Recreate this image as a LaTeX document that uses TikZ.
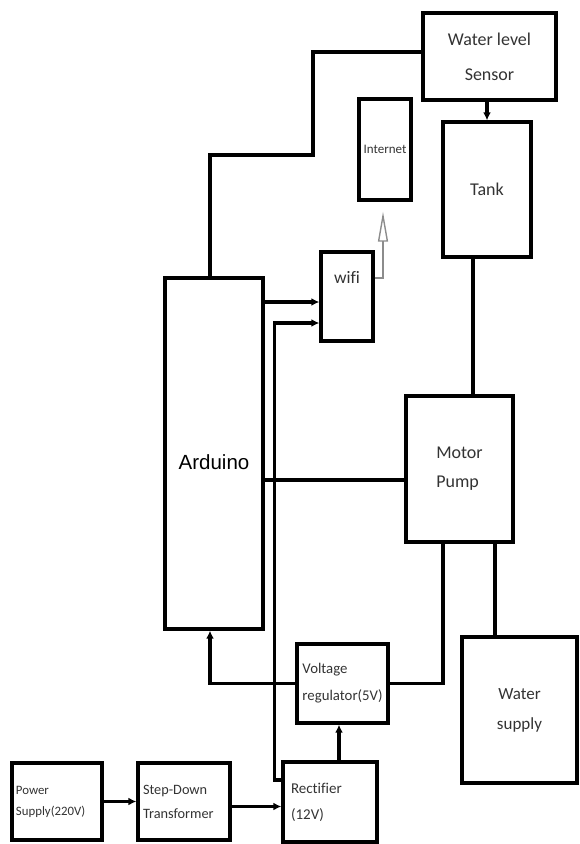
\documentclass[tikz,border=0pt]{standalone}
\usepackage{fontspec}
\setmainfont{Carlito}[Ligatures=NoCommon]
\newfontfamily\ardfont{Liberation Sans}
\usetikzlibrary{arrows.meta}

\tikzset{
  blk/.style={draw=black, line width=3.4pt, text=black!80, inner sep=4pt},
  wire/.style={line width=3.2pt},
  arr/.style={line width=3.2pt, -{Latex[length=8pt,width=8pt]}},
  hollow/.style={draw=black!45, line width=1.4pt, -{Triangle[open,length=30pt,width=10pt]}},
}

\begin{document}
\begin{tikzpicture}[x=1pt,y=-1pt]
\useasboundingbox (0,0) rectangle (579,844);

%blocks
\node[blk, minimum width=133, minimum height=87, align=center, font=\fontsize{18}{35}\selectfont] (sensor) at (489.5,56.5) {Water level\\Sensor};
\node[blk, minimum width=52, minimum height=101, font=\fontsize{13}{15}\selectfont] (internet) at (385,149.5) {Internet};
\node[blk, minimum width=88, minimum height=135, font=\fontsize{18}{20}\selectfont] (tank) at (487,189.5) {Tank};
\node[blk, minimum width=52, minimum height=89] (wifi) at (347,296.5) {};
\node[text=black!80, font=\fontsize{17.5}{20}\selectfont] (wifilbl) at ([yshift=19pt]wifi.center) {wifi};
\node[blk, minimum width=98, minimum height=351] (arduino) at (214,453.5) {};
\node[text=black, font=\ardfont\fontsize{20.5}{24}\selectfont] (ardlbl) at ([yshift=-9pt]arduino.center) {Arduino};
\node[blk, minimum width=107, minimum height=146, align=left, font=\fontsize{18}{29}\selectfont] (pump) at (459.5,469) {Motor\\Pump};
\node[blk, minimum width=91, minimum height=79, align=left, font=\fontsize{14.8}{27}\selectfont] (vr) at (342.5,683.5) {Voltage\\regulator(5V)};
\node[blk, minimum width=115, minimum height=146, align=center, font=\fontsize{17}{30}\selectfont] (ws) at (519.5,710) {Water\\supply};
\node[blk, minimum width=94, minimum height=80, inner xsep=8pt, text width=78pt, align=left, font=\fontsize{15}{26}\selectfont] (rect) at (330,802) {Rectifier\\(12V)};
\node[blk, minimum width=92, minimum height=77, inner xsep=5pt, text width=82pt, align=left, font=\fontsize{14.3}{24}\selectfont] (step) at (184,801.5) {Step-Down\\Transformer};
\node[blk, minimum width=90, minimum height=77, inner xsep=4pt, text width=82pt, align=left, font=\fontsize{12.8}{21}\selectfont] (power) at (57,801.5) {Power\\Supply(220V)};

\coordinate (wa) at ([yshift=-5.5pt]wifi.west);
\coordinate (wb) at ([yshift=-26.5pt]wifi.west);
\coordinate (pa) at ([yshift=-11pt]pump.west);

%connections
\draw[wire] ([yshift=4.5pt]sensor.west) -| (313,155) -| ([xshift=-4pt]arduino.north);
\draw[arr] (sensor.south -| tank.north) -- (tank.north);
\draw[wire] ([xshift=-14pt]tank.south) -- ([xshift=-14pt]tank.south |- pump.north);
\draw[arr] (arduino.east |- wa) -- (wa);
\draw[arr] ([yshift=22pt]rect.west) -| ([xshift=10pt]arduino.east |- wb) -- (wb);
\draw[hollow] ([yshift=18.5pt]wifi.east) -| ([xshift=-2pt,yshift=-10pt]internet.south);
\draw[wire] (arduino.east |- pa) -- (pa);
\draw[wire] ([xshift=-16.5pt]pump.south) |- (vr.east);
\draw[wire] ([xshift=35.5pt]pump.south) -- ([xshift=35.5pt]pump.south |- ws.north);
\draw[arr] (vr.west) -| ([xshift=-4pt]arduino.south);
\draw[arr] ([xshift=9pt]rect.north) -- ([xshift=9pt]rect.north |- vr.south);
\draw[arr] (power.east) -- (step.west);
\draw[arr] ([yshift=-5pt]step.east) -- ([yshift=-5pt]step.east -| rect.west);

\end{tikzpicture}
\end{document}
